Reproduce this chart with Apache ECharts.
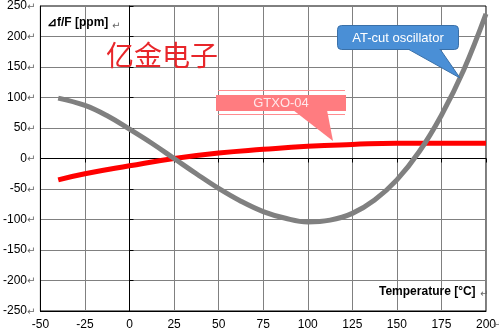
<!DOCTYPE html>
<html>
<head>
<meta charset="utf-8">
<script src="https://cdn.jsdelivr.net/npm/echarts@6/dist/echarts.min.js"></script>
<style>
  html, body { margin: 0; padding: 0; background: #fff; }
  #chart { width: 499px; height: 335px; }
</style>
</head>
<body>
<div id="chart"></div>
<script>
// Frequency deviation vs temperature for two oscillator types
const tempTicks = [-50, -25, 0, 25, 50, 75, 100, 125, 150, 175, 200];
const ppmTicks = [-250, -200, -150, -100, -50, 0, 50, 100, 150, 200, 250];

// AT-cut crystal oscillator (cubic curve)
const atCutTemps = [-40, -25, -12.5, 0, 12.5, 25, 37.5, 50, 62.5, 75, 87.5, 100, 112.5, 125, 137.5, 150, 162.5, 175, 187.5, 200];
const atCutPpm   = [99, 87, 70, 48, 25, 0, -25, -49, -70, -87, -98, -104, -101, -90, -68, -35, 11, 71, 145, 237];

// GTXO-04
const gtxoTemps = [-40, -25, 0, 25, 50, 75, 100, 125, 150, 175, 200];
const gtxoPpm   = [-35, -25, -12, 0, 9, 15, 20, 23, 25, 25, 25];

const seriesNames = ['AT-cut oscillator', 'GTXO-04'];

const pair = (xs, ys) => xs.map((x, i) => [x, ys[i]]);

const FONT = 'Liberation Sans, Arial, sans-serif';
const chart = echarts.init(document.getElementById('chart'), null, { renderer: 'canvas' });

chart.setOption({
  animation: false,
  backgroundColor: '#fff',
  grid: {
    left: 37, right: 12, top: 6, bottom: 24,
    show: true, borderColor: '#000', borderWidth: 1, backgroundColor: 'transparent'
  },
  xAxis: [
    {
      type: 'value', min: tempTicks[0], max: tempTicks[tempTicks.length - 1], interval: 25,
      position: 'bottom',
      axisLine: { show: true, onZero: false, lineStyle: { color: '#000', width: 1 } },
      axisTick: { show: false },
      axisLabel: {
        margin: 8, color: '#000', fontSize: 12, fontFamily: FONT,
        formatter: v => String(v)
      },
      splitLine: { show: true, showMinLine: false, showMaxLine: false, lineStyle: { color: '#808080', width: 1 } }
    },
    {
      type: 'value', min: tempTicks[0], max: tempTicks[tempTicks.length - 1], interval: 25,
      position: 'bottom',
      axisLine: { show: true, onZero: true, onZeroAxisIndex: 0, lineStyle: { color: '#000', width: 1 } },
      axisTick: { show: true, inside: false, length: 4, lineStyle: { color: '#000', width: 1 } },
      axisLabel: { show: false },
      splitLine: { show: false }
    }
  ],
  yAxis: [
    {
      type: 'value', min: ppmTicks[0], max: ppmTicks[ppmTicks.length - 1], interval: 50,
      position: 'left',
      axisLine: { show: true, onZero: false, lineStyle: { color: '#000', width: 1 } },
      axisTick: { show: false },
      axisLabel: {
        margin: 5,
        formatter: v => '{n|' + v + '}{r|\u21B5}',
        rich: {
          n: { color: '#000', fontSize: 12, fontFamily: FONT },
          r: { color: '#666', fontSize: 10, fontFamily: 'DejaVu Sans', padding: [2, 0, 0, 0] }
        }
      },
      splitLine: { show: true, showMinLine: false, showMaxLine: false, lineStyle: { color: '#808080', width: 1 } }
    },
    {
      type: 'value', min: ppmTicks[0], max: ppmTicks[ppmTicks.length - 1], interval: 50,
      position: 'left',
      axisLine: { show: true, onZero: true, onZeroAxisIndex: 0, lineStyle: { color: '#000', width: 1 } },
      axisTick: { show: true, inside: true, length: 4, lineStyle: { color: '#000', width: 1 } },
      axisLabel: { show: false },
      splitLine: { show: false }
    }
  ],
  series: [
    {
      name: seriesNames[1], type: 'line', xAxisIndex: 0, yAxisIndex: 0,
      data: pair(gtxoTemps, gtxoPpm), smooth: true, showSymbol: false, symbol: 'none',
      lineStyle: { color: '#ff0000', width: 5 }, z: 3
    },
    {
      name: seriesNames[0], type: 'line', xAxisIndex: 0, yAxisIndex: 0,
      data: pair(atCutTemps, atCutPpm), smooth: 0.4, showSymbol: false, symbol: 'none',
      lineStyle: { color: '#808080', width: 5 }, z: 4
    }
  ],
  graphic: [
    // axis titles
    { type: 'text', z: 20, left: 47, top: 17,
      style: { text: '\u22BFf/F [ppm]', fill: '#000', font: 'bold 12px ' + FONT } },
    { type: 'text', z: 20, left: 112, top: 21,
      style: { text: '\u21B5', fill: '#666', font: '10px DejaVu Sans' } },
    { type: 'text', z: 20, left: 379, top: 286,
      style: { text: 'Temperature [\u00B0C]', fill: '#000', font: 'bold 12px ' + FONT } },
    { type: 'text', z: 20, left: 480, top: 289,
      style: { text: '\u21B5', fill: '#666', font: '10px DejaVu Sans' } },
    { type: 'text', z: 20, left: 493, top: 320,
      style: { text: '\u21B5', fill: '#666', font: '10px DejaVu Sans' } },
    // brand text
    { type: 'text', z: 20, left: 106, top: 41,
      style: { text: '亿金电子', fill: '#e8262a', font: '28px "Noto Sans CJK SC"' } },
    // GTXO-04 callout
    { type: 'line', z: 20, shape: { x1: 218, y1: 90.5, x2: 345, y2: 90.5 },
      style: { stroke: '#ff8c8f', lineWidth: 1 } },
    { type: 'line', z: 20, shape: { x1: 218, y1: 114.5, x2: 345, y2: 114.5 },
      style: { stroke: '#ff8c8f', lineWidth: 1 } },
    { type: 'polygon', z: 20, shape: { points: [[293, 110], [327, 110], [333, 141]] },
      style: { fill: '#ff7c80' } },
    { type: 'rect', z: 21, shape: { x: 216, y: 95, width: 130, height: 16 },
      style: { fill: '#ff7c80' } },
    { type: 'text', z: 22, x: 281, y: 103,
      style: { text: seriesNames[1], fill: '#ffe8ea', font: '13px ' + FONT, align: 'center', verticalAlign: 'middle' } },
    // AT-cut oscillator callout
    { type: 'polygon', z: 20, shape: { points: [[408, 49], [440, 49], [460, 78]] },
      style: { fill: '#4a8fd6', stroke: '#3a70a8', lineWidth: 1 } },
    { type: 'rect', z: 21, shape: { x: 337.5, y: 25.5, width: 121, height: 24, r: 4 },
      style: { fill: '#4a8fd6', stroke: '#3a70a8', lineWidth: 1 } },
    { type: 'polygon', z: 22, shape: { points: [[409, 48], [439, 48], [440, 51], [411, 51]] },
      style: { fill: '#4a8fd6' } },
    { type: 'text', z: 23, x: 398, y: 38,
      style: { text: seriesNames[0], fill: '#ffffff', font: '13px ' + FONT, align: 'center', verticalAlign: 'middle' } }
  ]
});
</script>
</body>
</html>
